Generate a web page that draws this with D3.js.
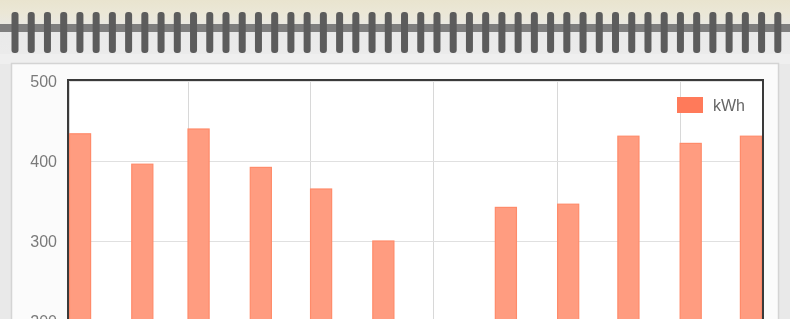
<!DOCTYPE html>
<html>
<head>
<meta charset="utf-8">
<script src="https://cdn.jsdelivr.net/npm/d3@7"></script>
<style>
  html, body { margin: 0; padding: 0; overflow: hidden; background: #e9e9e9; }
  svg { display: block; font-family: "Liberation Sans", Arial, sans-serif; filter: blur(0.5px); }
</style>
</head>
<body>
<svg id="chart" width="790" height="319"></svg>
<script>
// ---- data ----
const months = ["2011-01-01","2011-02-01","2011-03-01","2011-04-01","2011-05-01","2011-06-01",
                "2011-07-01","2011-08-01","2011-09-01","2011-10-01","2011-11-01","2011-12-01"];
const kwh = [434, 396, 440, 392, 365, 300, null, 342, 346, 431, 422, 431];
const yTicks = [0, 100, 200, 300, 400, 500];
const seriesLabel = "kWh";

// ---- layout ----
const W = 790, H = 319;
const plot = { left: 69, top: 81, right: 763 };
const pxPer100 = 80;
const plotBottom = plot.top + pxPer100 * 5;
const barDays = 11;

const svg = d3.select("#chart");
const parse = d3.timeParse("%Y-%m-%d");
const dates = months.map(parse);
const data = dates.map((d, i) => ({ date: d, value: kwh[i] }));

// background: top beige strip fading to grey
const defs = svg.append("defs");
const bg = defs.append("linearGradient").attr("id", "bgGrad").attr("x1", 0).attr("y1", 0).attr("x2", 0).attr("y2", 1);
bg.append("stop").attr("offset", "0%").attr("stop-color", "#e9e4cf");
bg.append("stop").attr("offset", "20%").attr("stop-color", "#ebe7d6");
bg.append("stop").attr("offset", "50%").attr("stop-color", "#e9e9e9");
bg.append("stop").attr("offset", "100%").attr("stop-color", "#ececec");
svg.append("rect").attr("x", 0).attr("y", 0).attr("width", W).attr("height", 64).attr("fill", "url(#bgGrad)");
svg.append("rect").attr("x", 0).attr("y", 54).attr("width", W).attr("height", 10).attr("fill", "#efefef");

// card
svg.append("rect").attr("x", 11.5).attr("y", 63.5).attr("width", 767).attr("height", 400)
  .attr("fill", "#fbfbfb").attr("stroke", "#d4d4d4").attr("stroke-width", 1.5);

// spiral binding
const spiralStep = 16.23;
const spiralCount = 48;
svg.append("rect").attr("x", 0).attr("y", 24).attr("width", W).attr("height", 8).attr("fill", "#7e7e7e");
svg.append("g").selectAll("rect").data(d3.range(spiralCount)).join("rect")
  .attr("x", i => 15 + i * spiralStep - 3.5)
  .attr("y", 12).attr("width", 7).attr("height", 41).attr("rx", 3)
  .attr("fill", "#5c5c5c");

// scales
const x = d3.scaleTime()
  .domain([dates[0], d3.timeHour.offset(d3.timeDay.offset(dates[11], barDays), 12)])
  .range([plot.left, plot.right]);
const y = d3.scaleLinear().domain([0, 500]).range([plotBottom, plot.top]);

// plot background
svg.append("rect").attr("x", plot.left).attr("y", plot.top)
  .attr("width", plot.right - plot.left).attr("height", plotBottom - plot.top).attr("fill", "#ffffff");

// grid
const xTicks = d3.timeMonth.every(2).range(dates[0], x.domain()[1]);
svg.append("g").selectAll("line").data(xTicks).join("line")
  .attr("x1", d => Math.round(x(d)) + 0.5).attr("x2", d => Math.round(x(d)) + 0.5)
  .attr("y1", plot.top).attr("y2", plotBottom)
  .attr("stroke", "#d8d8d8").attr("stroke-width", 1);
svg.append("g").selectAll("line").data(yTicks).join("line")
  .attr("x1", plot.left).attr("x2", plot.right)
  .attr("y1", d => Math.round(y(d)) + 0.5).attr("y2", d => Math.round(y(d)) + 0.5)
  .attr("stroke", "#e0e0e0").attr("stroke-width", 1);

// bars
svg.append("g").selectAll("rect").data(data.filter(d => d.value != null)).join("rect")
  .attr("x", d => x(d.date) + 0.5)
  .attr("y", d => y(d.value))
  .attr("width", d => x(d3.timeDay.offset(d.date, barDays)) - x(d.date) - 1)
  .attr("height", d => y(0) - y(d.value))
  .attr("fill", "#ff9c80")
  .attr("stroke", "#ff8b6a")
  .attr("stroke-width", 1.2);

// frame
svg.append("rect").attr("x", plot.left - 1).attr("y", plot.top - 1)
  .attr("width", plot.right - plot.left + 1).attr("height", plotBottom - plot.top + 1)
  .attr("fill", "none").attr("stroke", "#3a3a3a").attr("stroke-width", 2);

// y axis labels
const yAxis = d3.axisLeft(y).tickValues(yTicks).tickSize(0).tickPadding(12);
const gy = svg.append("g").attr("transform", `translate(${plot.left},0)`).call(yAxis);
gy.select(".domain").remove();
gy.selectAll("text").attr("font-size", 16).attr("fill", "#7a7a7a")
  .attr("font-family", "'Liberation Sans', Arial, sans-serif");

// legend
const lg = svg.append("g").attr("transform", "translate(677,97)");
lg.append("rect").attr("x", 0).attr("y", 0).attr("width", 26).attr("height", 16).attr("fill", "#ff7a5a");
lg.append("text").attr("x", 36).attr("y", 14).attr("font-size", 16).attr("fill", "#666")
  .text(seriesLabel);
</script>
</body>
</html>
